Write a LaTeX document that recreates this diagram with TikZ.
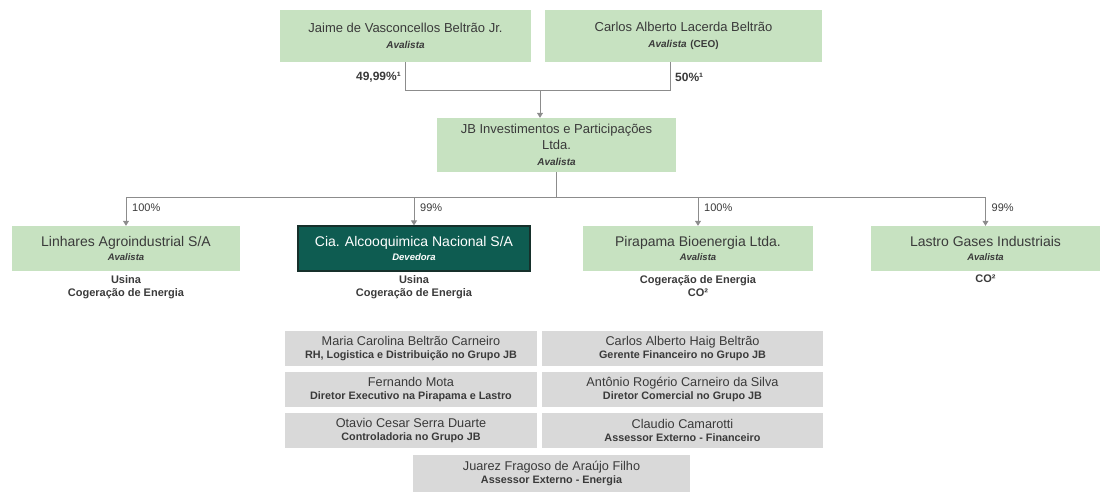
\documentclass[tikz,border=0pt]{standalone}
\usepackage{fontspec}
\setmainfont{Liberation Sans}
\usetikzlibrary{arrows.meta}

\definecolor{boxgreen}{HTML}{C7E2C1}
\definecolor{boxteal}{HTML}{0E5C51}
\definecolor{tealedge}{HTML}{16302B}
\definecolor{boxgray}{HTML}{D9D9D9}
\definecolor{txt}{HTML}{3A3A3A}
\definecolor{wire}{HTML}{8C8C8C}

\newcommand{\sub}[1]{{\fontsize{10}{11}\selectfont\bfseries\itshape #1}}
\newcommand{\smallsub}[1]{{\fontsize{9.5}{10}\selectfont\bfseries\itshape #1}}
\newcommand{\role}[1]{{\fontsize{10.8}{11}\selectfont\bfseries #1}}

\begin{document}
\begin{tikzpicture}[x=1pt,y=-1pt,
  basebox/.style={rectangle, inner sep=0pt, align=center, text=txt},
  owner/.style={basebox, fill=boxgreen, font=\fontsize{13}{16}\selectfont},
  firm/.style={basebox, fill=boxgreen, minimum height=45pt, font=\fontsize{14}{14.5}\selectfont},
  debtor/.style={firm, fill=boxteal, draw=tealedge, line width=1.2pt, text=white},
  staff/.style={basebox, fill=boxgray, minimum height=35pt, font=\fontsize{12.7}{13.5}\selectfont},
  note/.style={inner sep=0pt, align=center, text=txt, font=\fontsize{11}{13}\selectfont\bfseries},
  pct/.style={inner sep=0pt, text=txt, font=\fontsize{11}{12}\selectfont},
  share/.style={inner sep=0pt, text=txt, font=\fontsize{12}{12}\selectfont\bfseries},
  line/.style={draw=wire, line width=0.8pt},
  arr/.style={line, -{Triangle[width=6pt,length=5pt]}}
]
\useasboundingbox (0,0) rectangle (1111,495);

% shareholders
\node[owner, minimum width=251pt, minimum height=52pt] (jaime) at (405.5,36)
  {Jaime de Vasconcellos Beltrão Jr.\\\sub{Avalista}};
\node[owner, minimum width=277pt, minimum height=52pt] (carlos) at (683.5,36)
  {Carlos Alberto Lacerda Beltrão\\\sub{Avalista} {\fontsize{10}{11}\selectfont\bfseries(CEO)}};

% holding
\node[owner, minimum width=239pt, minimum height=54pt] (jb) at (556.5,145)
  {JB Investimentos e Participações\\Ltda.\\\sub{Avalista}};

% subsidiaries
\node[firm, minimum width=228pt] (lin) at (126,248.5)
  {Linhares Agroindustrial S/A\\\smallsub{Avalista}};
\node[debtor, minimum width=232pt] (cia) at (414,248.5)
  {Cia. Alcooquimica Nacional S/A\\\smallsub{Devedora}};
\node[firm, minimum width=230pt] (pir) at (698,248.5)
  {Pirapama Bioenergia Ltda.\\\smallsub{Avalista}};
\node[firm, minimum width=229pt] (las) at (985.5,248.5)
  {Lastro Gases Industriais\\\smallsub{Avalista}};

% activities
\node[note, anchor=north] (linact) at (126,275) {Usina\\Cogeração de Energia};
\node[note, anchor=north] (ciaact) at (414,275) {Usina\\Cogeração de Energia};
\node[note, anchor=north] (piract) at (698,275) {Cogeração de Energia\\CO²};
\node[note, anchor=north] (lasact) at (985.5,275) {CO²};

% management
\node[staff, minimum width=252pt] (maria) at (411,348.5)
  {Maria Carolina Beltrão Carneiro\\\role{RH, Logistica e Distribuição no Grupo JB}};
\node[staff, minimum width=281pt] (haig) at (682.5,348.5)
  {Carlos Alberto Haig Beltrão\\\role{Gerente Financeiro no Grupo JB}};
\node[staff, minimum width=252pt] (mota) at (411,389.5)
  {Fernando Mota\\\role{Diretor Executivo na Pirapama e Lastro}};
\node[staff, minimum width=281pt] (antonio) at (682.5,389.5)
  {Antônio Rogério Carneiro da Silva\\\role{Diretor Comercial no Grupo JB}};
\node[staff, minimum width=252pt] (otavio) at (411,430.5)
  {Otavio Cesar Serra Duarte\\\role{Controladoria no Grupo JB}};
\node[staff, minimum width=281pt] (claudio) at (682.5,430.5)
  {Claudio Camarotti\\\role{Assessor Externo - Financeiro}};
\node[staff, minimum width=277pt, minimum height=37pt] (juarez) at (551.5,473.5)
  {Juarez Fragoso de Araújo Filho\\\role{Assessor Externo - Energia}};

% ownership of the holding
\coordinate (carlosfoot) at (670,62);
\coordinate (join) at (540,90);
\draw[line] (jaime.south) -- ++(0,28) -| (carlosfoot);
\draw[arr] (join) -- (join |- jb.north);
\node[share, anchor=east] (sj) at (401,77) {49,99\%¹};
\node[share, anchor=west] (sc) at (675,77) {50\%¹};

% holding to subsidiaries
\coordinate (bus) at (556.5,197);
\draw[line] (jb.south) -- (bus);
\draw[line] (lin.north |- bus) -- (las.north |- bus);
\foreach \f in {lin,cia,pir,las}
  \draw[arr] (\f.north |- bus) -- (\f.north);
\node[pct, anchor=west] (plin) at ([xshift=6pt]lin.north |- 0,208) {100\%};
\node[pct, anchor=west] (pcia) at ([xshift=6pt]cia.north |- 0,208) {99\%};
\node[pct, anchor=west] (ppir) at ([xshift=6pt]pir.north |- 0,208) {100\%};
\node[pct, anchor=west] (plas) at ([xshift=6pt]las.north |- 0,208) {99\%};
\end{tikzpicture}
\end{document}
